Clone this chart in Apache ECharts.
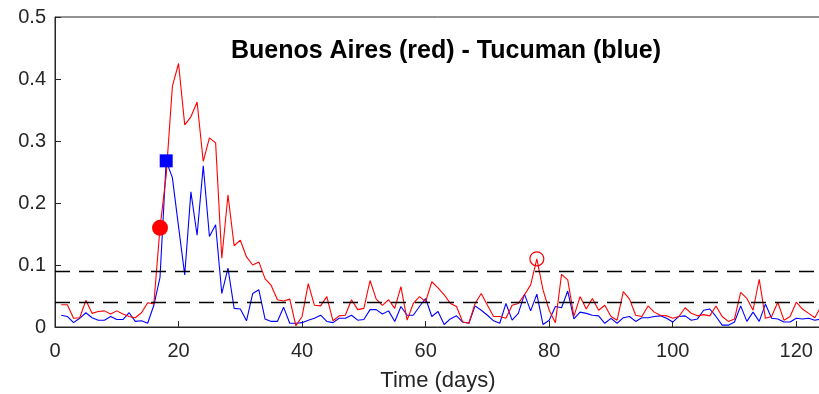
<!DOCTYPE html>
<html>
<head>
<meta charset="utf-8">
<script src="https://cdn.jsdelivr.net/npm/echarts@6/dist/echarts.min.js"></script>
<style>
  html, body { margin: 0; padding: 0; background: #fff; }
  #chart { width: 819px; height: 394px; }
</style>
</head>
<body>
<div id="chart"></div>
<script>
// Daily index values, day 1 .. 124
const days = Array.from({ length: 124 }, (_, i) => i + 1);

const buenosAires = [
  0.036, 0.036, 0.014, 0.015, 0.043, 0.022, 0.025, 0.026, 0.021, 0.026,
  0.021, 0.017, 0.015, 0.023, 0.039, 0.037, 0.160, 0.245, 0.388, 0.425,
  0.326, 0.339, 0.363, 0.267, 0.305, 0.297, 0.111, 0.213, 0.131, 0.140,
  0.113, 0.100, 0.105, 0.078, 0.067, 0.044, 0.042, 0.045, 0.002, 0.017,
  0.070, 0.035, 0.034, 0.049, 0.010, 0.018, 0.019, 0.044, 0.028, 0.030,
  0.075, 0.045, 0.035, 0.044, 0.030, 0.065, 0.011, 0.038, 0.049, 0.041,
  0.073, 0.063, 0.052, 0.038, 0.033, 0.008, 0.006, 0.038, 0.054, 0.035,
  0.017, 0.017, 0.014, 0.035, 0.038, 0.052, 0.068, 0.110, 0.060, 0.027,
  0.007, 0.085, 0.076, 0.017, 0.049, 0.029, 0.046, 0.027, 0.035, 0.017,
  0.011, 0.057, 0.045, 0.019, 0.017, 0.034, 0.024, 0.019, 0.018, 0.014,
  0.017, 0.031, 0.022, 0.018, 0.020, 0.018, 0.034, 0.017, 0.009, 0.013,
  0.056, 0.046, 0.027, 0.077, 0.014, 0.017, 0.040, 0.011, 0.017, 0.040,
  0.029, 0.022, 0.015, 0.033
];

const tucuman = [
  0.019, 0.017, 0.007, 0.014, 0.023, 0.015, 0.011, 0.011, 0.017, 0.012,
  0.012, 0.023, 0.009, 0.010, 0.006, 0.035, 0.080, 0.268, 0.241, 0.162,
  0.084, 0.218, 0.148, 0.260, 0.146, 0.165, 0.054, 0.095, 0.030, 0.029,
  0.010, 0.054, 0.060, 0.013, 0.009, 0.009, 0.032, 0.006, 0.006, 0.007,
  0.011, 0.014, 0.019, 0.009, 0.007, 0.014, 0.014, 0.019, 0.011, 0.012,
  0.028, 0.028, 0.021, 0.026, 0.009, 0.033, 0.019, 0.019, 0.033, 0.046,
  0.017, 0.025, 0.004, 0.013, 0.018, 0.008, 0.006, 0.034, 0.027, 0.019,
  0.010, 0.006, 0.038, 0.011, 0.022, 0.053, 0.026, 0.053, 0.004, 0.011,
  0.033, 0.031, 0.058, 0.013, 0.024, 0.022, 0.019, 0.018, 0.006, 0.014,
  0.006, 0.015, 0.017, 0.009, 0.015, 0.015, 0.017, 0.018, 0.014, 0.008,
  0.017, 0.018, 0.011, 0.013, 0.027, 0.029, 0.017, 0.003, 0.003, 0.008,
  0.034, 0.009, 0.024, 0.009, 0.037, 0.014, 0.013, 0.008, 0.008, 0.014,
  0.013, 0.014, 0.011, 0.013
];

// Horizontal reference thresholds
const thresholds = [0.089, 0.0355];

// Highlighted days
const redOnsetDay = 17;
const blueOnsetDay = 18;
const redLateDay = 78;

const yTicks = [0, 0.1, 0.2, 0.3, 0.4, 0.5];
const xTicks = [0, 20, 40, 60, 80, 100, 120];

const pairs = (xs, ys) => xs.map((x, i) => [x, ys[i]]);
const at = (ys, day) => [day, ys[day - 1]];

const axisColor = '#262626';
const font = 'Liberation Sans, Arial, Helvetica, sans-serif';

const chart = echarts.init(document.getElementById('chart'), null, { renderer: 'canvas' });

chart.setOption({
  animation: false,
  backgroundColor: '#ffffff',
  title: {
    text: 'Buenos Aires (red) - Tucuman (blue)',
    left: 441,
    textAlign: 'center',
    top: 34,
    textStyle: { fontFamily: font, fontSize: 25, fontWeight: 'bold', color: '#000' }
  },
  grid: {
    left: 55, right: -2, top: 17, bottom: 67,
    outerBoundsMode: 'none',
    show: true, borderColor: axisColor, borderWidth: 1
  },
  xAxis: {
    type: 'value',
    min: 0,
    max: 124,
    interval: 20,
    name: 'Time (days)',
    nameLocation: 'middle',
    nameGap: 43,
    nameTextStyle: { fontFamily: font, fontSize: 22, color: axisColor },
    axisLine: { onZero: false, lineStyle: { color: axisColor, width: 1 } },
    axisTick: { inside: true, length: 6, lineStyle: { color: axisColor } },
    axisLabel: {
      fontFamily: font, fontSize: 20, color: axisColor, margin: 14,
      showMaxLabel: false,
      formatter: v => (xTicks.includes(v) ? String(v) : '')
    },
    splitLine: { show: false }
  },
  yAxis: {
    type: 'value',
    min: 0,
    max: 0.5,
    interval: 0.1,
    axisLine: { show: true, lineStyle: { color: axisColor, width: 1 } },
    axisTick: { show: true, inside: true, length: 6, lineStyle: { color: axisColor } },
    axisLabel: {
      fontFamily: font, fontSize: 20, color: axisColor, margin: 9,
      formatter: v => {
        const t = yTicks.find(k => Math.abs(k - v) < 1e-9);
        return t === undefined ? '' : (t === 0 ? '0' : t.toFixed(1));
      }
    },
    splitLine: { show: false }
  },
  series: [
    {
      name: 'Buenos Aires',
      type: 'line',
      data: pairs(days, buenosAires),
      showSymbol: false,
      lineStyle: { color: '#ff0000', width: 1.1 },
      z: 3,
      markLine: {
        silent: true,
        symbol: 'none',
        label: { show: false },
        lineStyle: { color: '#000', width: 1.4, type: [15, 9] },
        data: thresholds.map(v => ({ yAxis: v }))
      }
    },
    {
      name: 'Tucuman',
      type: 'line',
      data: pairs(days, tucuman),
      showSymbol: false,
      lineStyle: { color: '#0000ff', width: 1.1 },
      z: 2
    },
    {
      type: 'scatter',
      data: [at(buenosAires, redOnsetDay)],
      symbol: 'circle',
      symbolSize: 16,
      itemStyle: { color: '#ff0000', opacity: 1 },
      z: 5
    },
    {
      type: 'scatter',
      data: [at(tucuman, blueOnsetDay)],
      symbol: 'rect',
      symbolSize: 13,
      itemStyle: { color: '#0000ff', opacity: 1 },
      z: 5
    },
    {
      type: 'scatter',
      data: [at(buenosAires, redLateDay)],
      symbol: 'circle',
      symbolSize: 14,
      itemStyle: { color: 'rgba(0,0,0,0)', borderColor: '#ff0000', borderWidth: 1.2, opacity: 1 },
      z: 5
    }
  ]
});
</script>
</body>
</html>
